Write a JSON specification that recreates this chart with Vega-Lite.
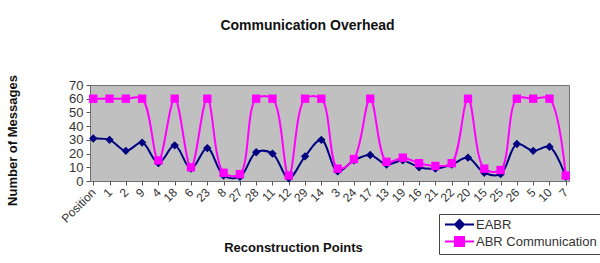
{
  "$schema": "https://vega.github.io/schema/vega-lite/v6.json",
  "autosize": "none",
  "width": 479,
  "height": 96,
  "padding": {"left": 90, "top": 85, "right": 31, "bottom": 82},
  "background": "white",
  "config": {
    "font": "Liberation Sans",
    "view": {"fill": "#C0C0C0", "stroke": "#707070", "strokeWidth": 1}
  },
  "title": {"text": "Communication Overhead", "fontSize": 14, "fontWeight": "bold", "color": "#111", "anchor": "middle", "frame": "group", "dx": -22, "offset": 42},
  "data": {
    "values": [
      {"point": "Position", "series": "EABR", "value": 31}, {"point": "1", "series": "EABR", "value": 30}, {"point": "2", "series": "EABR", "value": 22}, {"point": "9", "series": "EABR", "value": 28}, {"point": "4", "series": "EABR", "value": 13}, {"point": "18", "series": "EABR", "value": 26}, {"point": "6", "series": "EABR", "value": 9}, {"point": "23", "series": "EABR", "value": 24}, {"point": "8", "series": "EABR", "value": 4}, {"point": "27", "series": "EABR", "value": 3}, {"point": "28", "series": "EABR", "value": 21}, {"point": "11", "series": "EABR", "value": 20}, {"point": "12", "series": "EABR", "value": 2}, {"point": "29", "series": "EABR", "value": 18}, {"point": "14", "series": "EABR", "value": 30}, {"point": "3", "series": "EABR", "value": 7}, {"point": "24", "series": "EABR", "value": 15}, {"point": "17", "series": "EABR", "value": 19}, {"point": "13", "series": "EABR", "value": 12}, {"point": "19", "series": "EABR", "value": 15}, {"point": "16", "series": "EABR", "value": 10}, {"point": "21", "series": "EABR", "value": 9}, {"point": "22", "series": "EABR", "value": 12}, {"point": "20", "series": "EABR", "value": 17}, {"point": "15", "series": "EABR", "value": 6}, {"point": "25", "series": "EABR", "value": 5}, {"point": "26", "series": "EABR", "value": 27}, {"point": "5", "series": "EABR", "value": 22}, {"point": "10", "series": "EABR", "value": 25}, {"point": "7", "series": "EABR", "value": 3},
      {"point": "Position", "series": "ABR Communication", "value": 60}, {"point": "1", "series": "ABR Communication", "value": 60}, {"point": "2", "series": "ABR Communication", "value": 60}, {"point": "9", "series": "ABR Communication", "value": 60}, {"point": "4", "series": "ABR Communication", "value": 15}, {"point": "18", "series": "ABR Communication", "value": 60}, {"point": "6", "series": "ABR Communication", "value": 10}, {"point": "23", "series": "ABR Communication", "value": 60}, {"point": "8", "series": "ABR Communication", "value": 6}, {"point": "27", "series": "ABR Communication", "value": 5}, {"point": "28", "series": "ABR Communication", "value": 60}, {"point": "11", "series": "ABR Communication", "value": 60}, {"point": "12", "series": "ABR Communication", "value": 4}, {"point": "29", "series": "ABR Communication", "value": 60}, {"point": "14", "series": "ABR Communication", "value": 60}, {"point": "3", "series": "ABR Communication", "value": 9}, {"point": "24", "series": "ABR Communication", "value": 16}, {"point": "17", "series": "ABR Communication", "value": 60}, {"point": "13", "series": "ABR Communication", "value": 14}, {"point": "19", "series": "ABR Communication", "value": 17}, {"point": "16", "series": "ABR Communication", "value": 13}, {"point": "21", "series": "ABR Communication", "value": 11}, {"point": "22", "series": "ABR Communication", "value": 13}, {"point": "20", "series": "ABR Communication", "value": 60}, {"point": "15", "series": "ABR Communication", "value": 9}, {"point": "25", "series": "ABR Communication", "value": 8}, {"point": "26", "series": "ABR Communication", "value": 60}, {"point": "5", "series": "ABR Communication", "value": 60}, {"point": "10", "series": "ABR Communication", "value": 60}, {"point": "7", "series": "ABR Communication", "value": 4}
    ]
  },
  "encoding": {
    "x": {
      "field": "point", "type": "nominal", "sort": null,
      "scale": {"type": "point", "padding": 0.2},
      "axis": {
        "title": "Reconstruction Points", "titleFontSize": 13, "titleFontWeight": "bold", "titleColor": "#111",
        "titleX": 203, "titleY": 66, "titleBaseline": "middle", "titleAnchor": "middle",
        "labelAngle": -45, "labelAlign": "right", "labelBaseline": "middle", "labelFontSize": 12, "labelColor": "#333",
        "labelPadding": 5, "tickSize": 4, "tickColor": "#555", "domain": false, "grid": false, "labelOverlap": false
      }
    },
    "y": {
      "field": "value", "type": "quantitative",
      "scale": {"domain": [0, 70], "nice": false},
      "axis": {
        "title": "Number of Messages", "titleFontSize": 13, "titleFontWeight": "bold", "titleColor": "#111",
        "titleX": -78, "titleY": 55, "titleAngle": -90, "titleAlign": "center", "titleBaseline": "middle",
        "values": [0, 10, 20, 30, 40, 50, 60, 70], "labelFontSize": 13, "labelColor": "#333", "labelOverlap": false,
        "labelPadding": 3, "tickSize": 4, "tickColor": "#555", "domain": false, "grid": false
      }
    },
    "color": {
      "field": "series", "type": "nominal",
      "scale": {"domain": ["EABR", "ABR Communication"], "range": ["#000080", "#FF00FF"]},
      "legend": {
        "title": null, "orient": "none", "legendX": 349, "legendY": 129,
        "strokeColor": "#444", "fillColor": "white", "padding": 4,
        "labelFontSize": 13, "labelColor": "#333", "labelOffset": 10, "symbolOffset": 10,
        "rowPadding": 0, "symbolSize": 100, "symbolStrokeWidth": 2,
        "encode": {
          "symbols": {
            "update": {
              "shape": {"signal": "datum.value === 'EABR' ? 'M-2.9,0H2.9M0,-0.9L0.9,0L0,0.9L-0.9,0Z' : 'M-2.9,0H2.9M-0.9,-0.9H0.9V0.9H-0.9Z'"},
              "fill": {"signal": "datum.value === 'EABR' ? '#000080' : '#FF00FF'"},
              "stroke": {"signal": "datum.value === 'EABR' ? '#000080' : '#FF00FF'"},
              "strokeWidth": {"value": 2}
            }
          }
        }
      }
    }
  },
  "layer": [
    {"transform": [{"filter": "datum.series === 'EABR'"}], "mark": {"type": "line", "interpolate": "catmull-rom", "strokeWidth": 2}},
    {"transform": [{"filter": "datum.series === 'EABR'"}], "mark": {"type": "point", "shape": "diamond", "filled": true, "size": 70, "opacity": 1}},
    {"transform": [{"filter": "datum.series !== 'EABR'"}], "mark": {"type": "line", "interpolate": "catmull-rom", "strokeWidth": 2}},
    {"transform": [{"filter": "datum.series !== 'EABR'"}], "mark": {"type": "point", "shape": "square", "filled": true, "size": 70, "opacity": 1}}
  ]
}
